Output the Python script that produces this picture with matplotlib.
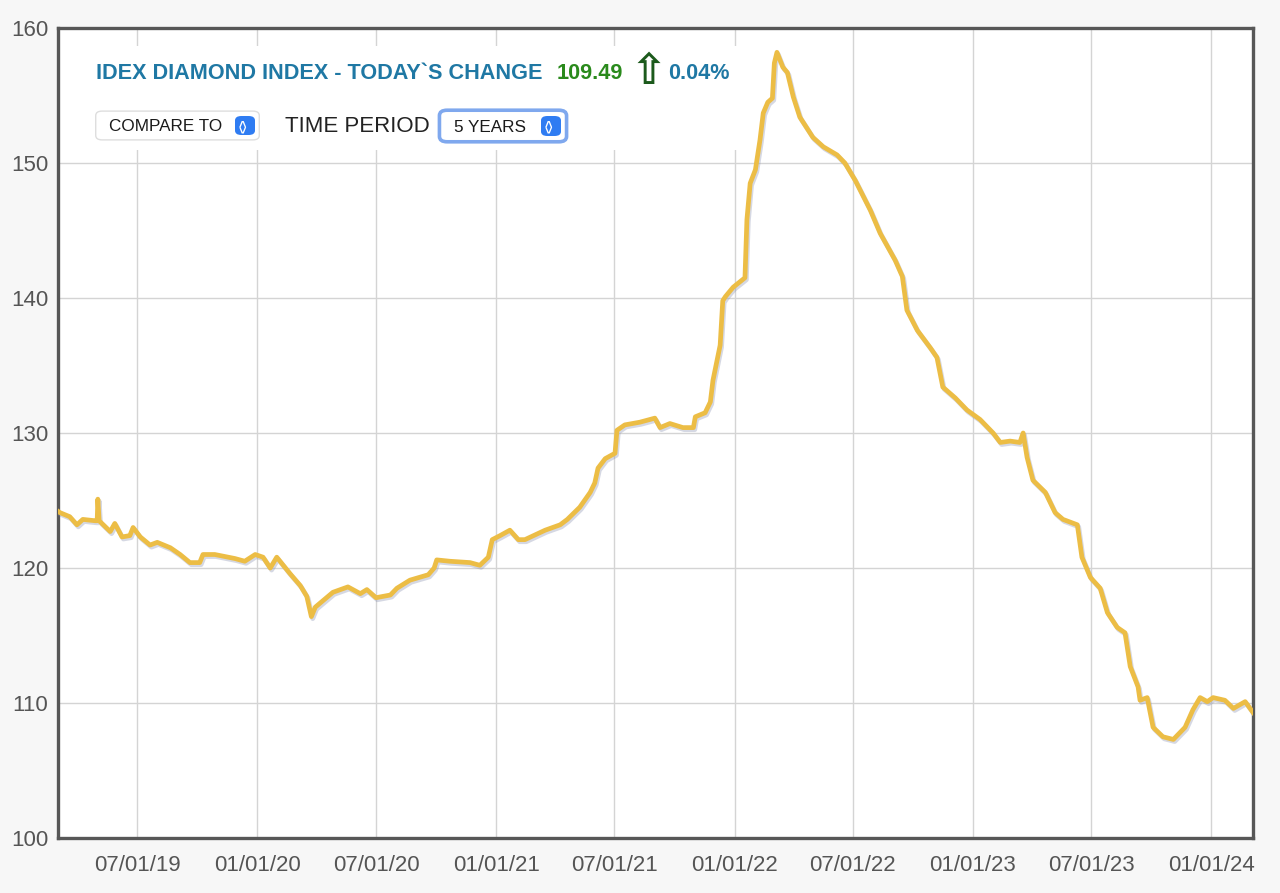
import pandas as pd
import matplotlib.pyplot as plt
import matplotlib.dates as mdates
import matplotlib.patheffects as pe
from matplotlib.patches import FancyBboxPatch, Rectangle

# IDEX diamond index, 5 years
dates = [
    '2019-03-02', '2019-03-05', '2019-03-20', '2019-03-31', '2019-04-09', '2019-04-28',
    '2019-05-01', '2019-05-02', '2019-05-04', '2019-05-21', '2019-05-28', '2019-06-08',
    '2019-06-20', '2019-06-25', '2019-07-06', '2019-07-21', '2019-08-01', '2019-08-21',
    '2019-09-05', '2019-09-20', '2019-10-05', '2019-10-10', '2019-10-28', '2019-11-28',
    '2019-12-13', '2019-12-29', '2020-01-10', '2020-01-21', '2020-01-31', '2020-02-20',
    '2020-03-07', '2020-03-17', '2020-03-24', '2020-03-30', '2020-04-26', '2020-05-19',
    '2020-06-07', '2020-06-17', '2020-07-01', '2020-07-23', '2020-08-02', '2020-08-22',
    '2020-09-19', '2020-09-28', '2020-10-02', '2020-10-22', '2020-11-22', '2020-12-07',
    '2020-12-20', '2020-12-26', '2021-01-07', '2021-01-22', '2021-02-04', '2021-02-14',
    '2021-03-17', '2021-04-09', '2021-04-20', '2021-05-09', '2021-05-25', '2021-06-01',
    '2021-06-06', '2021-06-17', '2021-07-02', '2021-07-05', '2021-07-17', '2021-08-09',
    '2021-09-01', '2021-09-09', '2021-09-24', '2021-10-14', '2021-10-30', '2021-11-02',
    '2021-11-17', '2021-11-25', '2021-11-29', '2021-12-10', '2021-12-14', '2021-12-18',
    '2021-12-30', '2022-01-17', '2022-01-20', '2022-01-25', '2022-02-02', '2022-02-09',
    '2022-02-14', '2022-02-21', '2022-02-28', '2022-03-03', '2022-03-07', '2022-03-16',
    '2022-03-23', '2022-04-01', '2022-04-11', '2022-05-01', '2022-05-17', '2022-06-07',
    '2022-06-19', '2022-07-05', '2022-07-28', '2022-08-12', '2022-09-04', '2022-09-15',
    '2022-09-22', '2022-10-08', '2022-10-28', '2022-11-07', '2022-11-16', '2022-12-05',
    '2022-12-23', '2023-01-12', '2023-02-01', '2023-02-12', '2023-02-27', '2023-03-14',
    '2023-03-19', '2023-03-25', '2023-04-03', '2023-04-22', '2023-05-07', '2023-05-19',
    '2023-06-10', '2023-06-17', '2023-06-30', '2023-07-15', '2023-07-26', '2023-08-10',
    '2023-08-22', '2023-08-30', '2023-09-11', '2023-09-14', '2023-09-25', '2023-10-04',
    '2023-10-19', '2023-11-04', '2023-11-22', '2023-12-04', '2023-12-15', '2023-12-26',
    '2024-01-04', '2024-01-22', '2024-02-04', '2024-02-22', '2024-03-05',
]
values = [
    124.2, 124.1, 123.8, 123.2, 123.6, 123.5,
    123.5, 125.1, 123.5, 122.7, 123.3, 122.3,
    122.4, 123.0, 122.3, 121.7, 121.9, 121.5,
    121.0, 120.4, 120.4, 121.0, 121.0, 120.7,
    120.5, 121.0, 120.8, 120.0, 120.8, 119.6,
    118.7, 117.9, 116.4, 117.1, 118.2, 118.6,
    118.1, 118.4, 117.8, 118.0, 118.5, 119.1,
    119.5, 120.0, 120.6, 120.5, 120.4, 120.2,
    120.8, 122.1, 122.4, 122.8, 122.1, 122.1,
    122.8, 123.2, 123.6, 124.5, 125.6, 126.3,
    127.4, 128.1, 128.5, 130.2, 130.6, 130.8,
    131.1, 130.4, 130.7, 130.4, 130.4, 131.2,
    131.5, 132.3, 133.9, 136.5, 139.8, 140.1,
    140.8, 141.5, 145.8, 148.5, 149.5, 151.7,
    153.7, 154.5, 154.8, 157.4, 158.2, 157.1,
    156.7, 154.9, 153.4, 151.9, 151.2, 150.6,
    150.0, 148.7, 146.5, 144.8, 142.8, 141.6,
    139.1, 137.6, 136.3, 135.6, 133.4, 132.6,
    131.7, 131.0, 130.0, 129.3, 129.4, 129.3,
    130.0, 128.2, 126.5, 125.6, 124.1, 123.6,
    123.2, 120.8, 119.3, 118.5, 116.7, 115.6,
    115.2, 112.7, 111.2, 110.2, 110.4, 108.2,
    107.5, 107.3, 108.2, 109.5, 110.4, 110.1,
    110.4, 110.2, 109.6, 110.1, 109.3,
]
yticks = [100, 110, 120, 130, 140, 150, 160]

title = 'IDEX DIAMOND INDEX - TODAY`S CHANGE'
last_value = '109.49'
change = '0.04%'

df = pd.DataFrame({'date': pd.to_datetime(dates), 'value': values})

W, H = 1280, 893


def px(x, y):
    # pixel position (from top-left) -> figure fraction
    return x / W, 1 - y / H


plt.rcParams['font.family'] = ['Liberation Sans', 'DejaVu Sans']

fig = plt.figure(figsize=(W / 100, H / 100), dpi=100, facecolor='#f7f7f7')
ax = fig.add_axes([58 / W, 55 / H, (1253 - 58) / W, (838 - 28) / H])
ax.set_facecolor('white')

ax.plot(df['date'], df['value'], color='#ecbd45', lw=3.4, solid_joinstyle='round',
        path_effects=[pe.SimpleLineShadow(offset=(1, -1.5), shadow_color='#8890b0', alpha=0.35),
                      pe.Normal()], zorder=3)

ax.set_xlim(pd.Timestamp('2019-03-02'), pd.Timestamp('2024-03-05'))
ax.set_ylim(100, 160)
ax.set_yticks(yticks)
ax.xaxis.set_major_locator(mdates.MonthLocator(bymonth=[1, 7]))
ax.xaxis.set_major_formatter(mdates.DateFormatter('%m/%d/%y'))
ax.grid(True, color='#d4d4d4', lw=1)
ax.set_axisbelow(True)
ax.tick_params(axis='both', length=0, colors='#555555', labelsize=16)
ax.tick_params(axis='x', pad=12)
ax.tick_params(axis='y', pad=7)
for s in ax.spines.values():
    s.set_color('#575757')
    s.set_linewidth(2.4)

# header panel
x0, y0 = px(68, 150)
x1, y1 = px(742, 46)
fig.add_artist(Rectangle((x0, y0), x1 - x0, y1 - y0, transform=fig.transFigure,
                         facecolor='white', edgecolor='none', zorder=2))

fig.text(*px(96, 79), title, color='#1f78a4', fontsize=15.6, fontweight='bold', va='baseline', zorder=4)
fig.text(*px(557, 79), last_value, color='#2a8a1c', fontsize=15.6, fontweight='bold', va='baseline', zorder=4)
fig.text(*px(648, 72), '\u21e7', family='DejaVu Sans', color='#1c5a1c', fontsize=31,
         fontweight='bold', ha='center', va='center', zorder=4)
fig.text(*px(668, 79), change, color='#1f78a4', fontsize=15.6, fontweight='bold', va='baseline', zorder=4)


def dropdown(xl, xr, yt, yb, label, focus=False):
    bx, by = px(xl, yb)
    bw = (xr - xl) / W
    bh = (yb - yt) / H
    if focus:
        fig.add_artist(FancyBboxPatch((bx, by), bw, bh, boxstyle='round,pad=0.002,rounding_size=0.006',
                                      transform=fig.transFigure, facecolor='white',
                                      edgecolor='#7fa8ee', lw=2.6, zorder=3))
    else:
        fig.add_artist(FancyBboxPatch((bx, by), bw, bh, boxstyle='round,pad=0.001,rounding_size=0.005',
                                      transform=fig.transFigure, facecolor='white',
                                      edgecolor='#dedede', lw=1, zorder=3))
    fig.text(*px(xl + 12, (yt + yb) / 2 + 1), label, color='#1a1a1a', fontsize=12.3,
             va='center', ha='left', zorder=4)
    # blue up/down icon
    ix, iy = px(xr - 23, yb - 4)
    fig.add_artist(FancyBboxPatch((ix, iy), 20 / W, (yb - yt - 8) / H,
                                  boxstyle='round,pad=0.0,rounding_size=0.005',
                                  transform=fig.transFigure, facecolor='#2f7cf2',
                                  edgecolor='none', zorder=4))
    fig.text(*px(xr - 13, (yt + yb) / 2), '<>', color='white', fontsize=9, fontweight='bold',
             rotation=90, ha='center', va='center', zorder=5)


dropdown(97, 258, 112, 139, 'COMPARE TO')
fig.text(*px(285, 126), 'TIME PERIOD', color='#222222', fontsize=16, va='center', zorder=4)
dropdown(442, 564, 112, 140, '5 YEARS', focus=True)

plt.savefig('out.png', dpi=100, facecolor=fig.get_facecolor())
